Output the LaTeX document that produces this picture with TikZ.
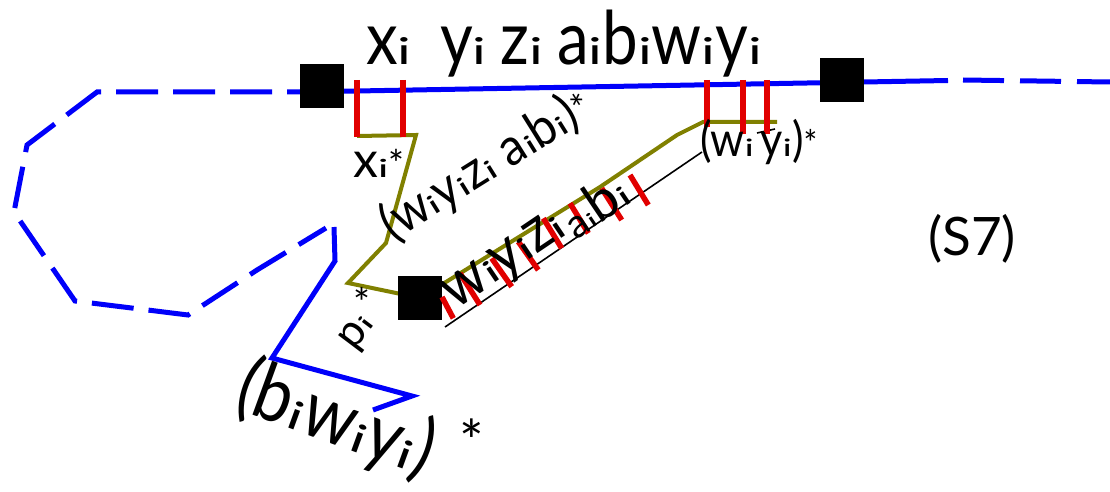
\documentclass[tikz,border=0pt]{standalone}
\usepackage{fontspec}
\setmainfont{Lato}
\usetikzlibrary{backgrounds}
\definecolor{lineblue}{RGB}{0,0,250}
\definecolor{tickred}{RGB}{225,0,0}
\definecolor{patholive}{RGB}{128,128,0}
% short upright index letter sitting on the baseline
\newcommand\ix{\scalebox{0.9}[0.5]{i}}
\newcommand\fs[1]{\fontsize{#1pt}{#1pt}\selectfont}
\begin{document}
\begin{tikzpicture}[x=1pt,y=-1pt,
  blk/.style={fill=black, inner sep=0pt, minimum size=44pt},
  route/.style={draw=lineblue, line width=5pt},
  routedash/.style={route, dash pattern=on 42pt off 15pt},
  cut/.style={draw=tickred, line width=5.5pt},
  loopline/.style={draw=patholive, line width=4pt, line join=miter},
  guide/.style={draw=black, line width=1.6pt},
  lbl/.style={inner sep=0pt, outer sep=0pt, text=black},
]
\useasboundingbox (0,0) rectangle (1110,492);

% endpoints of the routes
\node[blk] (sqL) at (322,86) {};
\node[blk] (sqR) at (842,80) {};
\node[blk] (sqM) at (420,298) {};

\coordinate (tA) at (300,92);
\coordinate (tB) at (948,80.5);
\coordinate (rA) at (963,80);
\coordinate (rB) at (1110,82);
\coordinate (dA) at (329,92);
\coordinate (d1) at (97,92);
\coordinate (d2) at (27,145);
\coordinate (d3) at (14,212);
\coordinate (d4) at (75,301);
\coordinate (d5) at (188,315);
\coordinate (d6) at (257,270);
\coordinate (dB) at (326,228);
\coordinate (s0) at (334,227);
\coordinate (s1) at (335,261);
\coordinate (s2) at (272,358);
\coordinate (s3) at (412,396);
\coordinate (s4) at (373,410);

\begin{scope}[on background layer]
  % blue route along the top and its dashed continuations
  \draw[route] (tA) -- (tB);
  \draw[route, dash pattern=on 41pt off 16pt] (rA) -- (rB);
  \draw[routedash] (dA) -- (d1) -- (d2) -- (d3) -- (d4) -- (d5) -- (d6) -- (dB);
  \draw[route] (s0) -- (s1) -- (s2) -- (s3) -- (s4);

  % olive detour through the middle block
  \coordinate (o0) at (357,136);
  \coordinate (o1) at (416,135);
  \coordinate (o2) at (386,243);
  \coordinate (o3) at (348,283);
  \coordinate (o4) at (600,187);
  \coordinate (o5) at (677,135);
  \coordinate (o6) at (703,122);
  \coordinate (o7) at (777,122);
  \draw[loopline] (o0) -- (o1) -- (o2) -- (o3) -- (sqM.center) -- (o4) -- (o5) -- (o6) -- (o7);
\end{scope}

% thin guide under the diagonal
\coordinate (g0) at (445,327);
\coordinate (g1) at (702,152);
\draw[guide] (g0) -- (g1);
\coordinate (h0) at (757,133);
\coordinate (h1) at (775,129);
\draw[guide] (h0) -- (h1);

% red cuts on the top route
\foreach \x/\b [count=\k] in {357/137, 403/137, 707/127, 743/134, 767/134}{
  \coordinate (ct\k) at (\x,80);
  \coordinate (cb\k) at (\x,\b);
  \draw[cut] (ct\k) -- (cb\k);
}
% red cuts on the diagonal
\foreach \ax/\ay/\bx/\by [count=\k] in {
  442/297/453.3/318.3, 460/273.3/480/305, 491.7/258.3/511.7/286.7,
  518.3/241.7/538.3/270, 543.3/218.3/561.7/248.3, 570/203.3/588.3/233.3,
  601.7/188.3/621.7/220, 630/175/648.3/205}{
  \coordinate (da\k) at (\ax,\ay);
  \coordinate (db\k) at (\bx,\by);
  \draw[cut] (da\k) -- (db\k);
}

% labels
\node[lbl, anchor=base west, font=\fs{74}] (top) at (366,65)
  {\scalebox{0.86}[1]{x\ix\hspace{0.45em}y\ix\hspace{0.22em}z\ix\hspace{0.22em}a\ix b\ix w\ix y\ix}};
\node[lbl, anchor=base west, font=\fs{50}] (xs) at (353,177) {x\ix\scalebox{0.75}{*}};
\node[lbl, anchor=base west, font=\fs{52}, rotate=32] (loop) at (393,242)
  {\scalebox{0.92}[1]{(w\ix y\ix z\ix\ a\ix b\ix)\scalebox{0.75}{*}}};
\node[lbl, anchor=base west, font=\fs{48}] (wy) at (700,156)
  {\scalebox{0.9}[1]{(w\ix\hspace{0.15em}y\ix)\scalebox{0.75}{*}}};
\node[lbl, anchor=base west, font=\fs{62}, rotate=34] (diag) at (455,310)
  {\scalebox{0.92}[1]{w\ix y\ix z\ix}};
\node[lbl, anchor=base west, font=\fs{40}, rotate=34] (diagb) at (576,240)
  {a\ix{\fs{54}b\ix}};
\node[lbl, anchor=center, font=\fs{44}, rotate=53] (pl) at (359,333) {p\ix};
\node[lbl, anchor=center, font=\fs{40}] (ps) at (362,302) {*};
\node[lbl, anchor=center, font=\fs{78}, rotate=-20] (bwy) at (336,420)
  {\scalebox{0.86}[1]{(b\ix w\ix y\ix)}};
\node[lbl, anchor=center, font=\fs{58}] (bs) at (472,441) {*};
\node[lbl, anchor=center, font=\fs{53}] (s7) at (972,239) {(S7)};
\end{tikzpicture}
\end{document}
